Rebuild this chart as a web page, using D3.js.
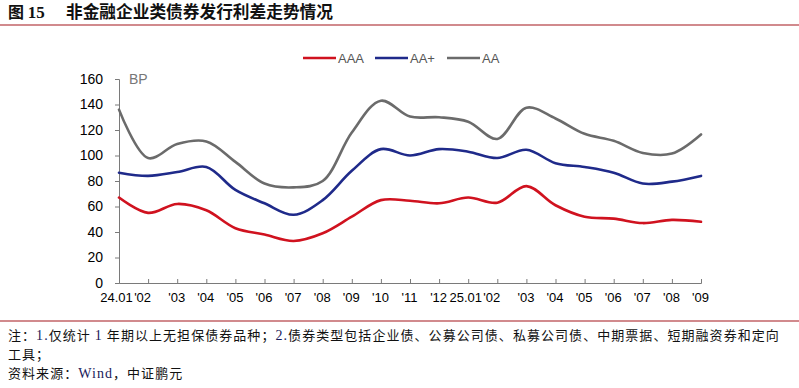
<!DOCTYPE html>
<html>
<head>
<meta charset="utf-8">
<title></title>
<script src="https://cdnjs.cloudflare.com/ajax/libs/d3/7.8.5/d3.min.js"></script>
<style>
  body { margin: 0; background: #fff; }
  svg { display: block; }
</style>
</head>
<body>
<div id="chart"></div>
<script>
// spreads, BP
var xLabels = ["24.01", "'02", "'03", "'04", "'05", "'06", "'07", "'08", "'09", "'10", "'11", "'12",
               "25.01", "'02", "'03", "'04", "'05", "'06", "'07", "'08", "'09"];
var aaa  = [67, 55, 62, 57, 43, 38, 33, 39, 52, 65, 64.5, 62.5, 67, 63, 76, 61, 52, 50.5, 47, 49.5, 48];
var aaPlus = [86.5, 84, 87, 91, 73, 62.5, 53.5, 65, 88, 105, 100, 105, 103, 98, 104.5, 94, 91, 86.5, 78, 79.5, 84];
var aa   = [136, 98, 109, 111, 95, 78, 75, 80, 118, 143, 130.5, 130, 126.5, 113, 137.5, 129, 117, 111.5, 102, 101.5, 116.5];
var yTicks = [0, 20, 40, 60, 80, 100, 120, 140, 160];

var series = [
  { name: "AAA", values: aaa, color: "#d0121f" },
  { name: "AA+", values: aaPlus, color: "#1f2a8a" },
  { name: "AA", values: aa, color: "#6b6b6b" }
];

var W = 799, H = 388;
var svg = d3.select("#chart").append("svg").attr("width", W).attr("height", H);

// title
var title = svg.append("text").attr("x", 8).attr("y", 18)
  .attr("font-family", "'Noto Sans CJK SC'").attr("font-weight", "bold")
  .attr("font-size", "16px").attr("fill", "#111");
title.append("tspan").text("图 ");
title.append("tspan").attr("font-family", "'Liberation Serif'").attr("font-size", "17px").text("15");
svg.append("text").attr("x", 66).attr("y", 18)
  .attr("font-family", "'Noto Sans CJK SC'").attr("font-weight", "bold")
  .attr("font-size", "16.7px").attr("fill", "#111")
  .text("非金融企业类债券发行利差走势情况");

svg.append("line").attr("x1", 0).attr("x2", W).attr("y1", 25).attr("y2", 25)
  .attr("stroke", "#a3171c").attr("stroke-width", 1.2);
svg.append("line").attr("x1", 0).attr("x2", W).attr("y1", 321).attr("y2", 321)
  .attr("stroke", "#a3171c").attr("stroke-width", 1.2);

// scales
var x = d3.scaleLinear().domain([0, xLabels.length - 1]).range([119, 701]);
var y = d3.scaleLinear().domain([0, 160]).range([283, 79]);

var axisColor = "#7a7a7a";

var yAxis = svg.append("g").attr("transform", "translate(119,0)")
  .call(d3.axisLeft(y).tickValues(yTicks).tickSize(4).tickPadding(12));
yAxis.select(".domain").attr("stroke", axisColor);
yAxis.selectAll(".tick line").attr("stroke", axisColor);
yAxis.selectAll("text").attr("font-family", "'Liberation Sans', Arial").attr("font-size", "14px").attr("fill", "#000");

var xAxis = svg.append("g").attr("transform", "translate(0,283)")
  .call(d3.axisBottom(x).tickValues(d3.range(xLabels.length)).tickSize(-4).tickPadding(10)
    .tickFormat(function (d) { return xLabels[d]; }));
xAxis.select(".domain").attr("stroke", axisColor);
xAxis.selectAll(".tick line").attr("stroke", axisColor);
// the year-start labels sit a little left, as in the source chart
var labelShift = { 0: -3, 1: -6, 12: -3, 13: -6 };
xAxis.selectAll("text").attr("font-family", "'Liberation Sans', Arial").attr("font-size", "13px").attr("fill", "#000")
  .attr("dy", "0.71em")
  .attr("dx", function (d) { return labelShift[d] !== undefined ? labelShift[d] : -1; });

svg.append("text").attr("x", 129).attr("y", 84).attr("font-family", "'Liberation Sans', Arial")
  .attr("font-size", "14px").attr("fill", "#777").text("BP");

// lines
var line = d3.line().x(function (d, i) { return x(i); }).y(function (d) { return y(d); })
  .curve(d3.curveCatmullRom.alpha(0.5));

svg.selectAll("path.series").data(series).enter().append("path")
  .attr("class", "series")
  .attr("d", function (d) { return line(d.values); })
  .attr("fill", "none").attr("stroke", function (d) { return d.color; })
  .attr("stroke-width", 2.6).attr("stroke-linejoin", "round").attr("stroke-linecap", "round");

// legend
var legendX = [303, 375, 447];
var lg = svg.selectAll("g.legend").data(series).enter().append("g")
  .attr("class", "legend")
  .attr("transform", function (d, i) { return "translate(" + legendX[i] + ",58)"; });
lg.append("line").attr("x1", 0).attr("x2", 33).attr("y1", 0).attr("y2", 0)
  .attr("stroke", function (d) { return d.color; }).attr("stroke-width", 2.6);
lg.append("text").attr("x", 35).attr("y", 5).attr("font-family", "'Liberation Sans', Arial")
  .attr("font-size", "13px").attr("fill", "#555").text(function (d) { return d.name; });

// notes
var noteFont = "'Noto Sans CJK SC'";
var serif = "'Liberation Serif'";
var n1 = svg.append("text").attr("x", 8).attr("y", 340).attr("font-family", noteFont).attr("font-size", "13px")
  .attr("fill", "#111").attr("letter-spacing", "1.05px");
n1.append("tspan").text("注：");
n1.append("tspan").attr("font-family", serif).attr("font-size", "14px").attr("fill", "#1a1a5a").text("1.");
n1.append("tspan").text("仅统计 ");
n1.append("tspan").attr("font-family", serif).attr("font-size", "14px").attr("fill", "#1a1a5a").text("1");
n1.append("tspan").text(" 年期以上无担保债券品种；");
n1.append("tspan").attr("font-family", serif).attr("font-size", "14px").attr("fill", "#1a1a5a").text("2.");
n1.append("tspan").text("债券类型包括企业债、公募公司债、私募公司债、中期票据、短期融资券和定向");
svg.append("text").attr("x", 8).attr("y", 359).attr("font-family", noteFont).attr("font-size", "13px")
  .attr("fill", "#111").attr("letter-spacing", "1.05px").text("工具；");
var n3 = svg.append("text").attr("x", 8).attr("y", 378).attr("font-family", noteFont).attr("font-size", "13px")
  .attr("fill", "#111").attr("letter-spacing", "1.05px");
n3.append("tspan").text("资料来源：");
n3.append("tspan").attr("font-family", serif).attr("font-size", "14px").attr("fill", "#1a1a5a").text("Wind");
n3.append("tspan").text("，中证鹏元");
</script>
</body>
</html>
